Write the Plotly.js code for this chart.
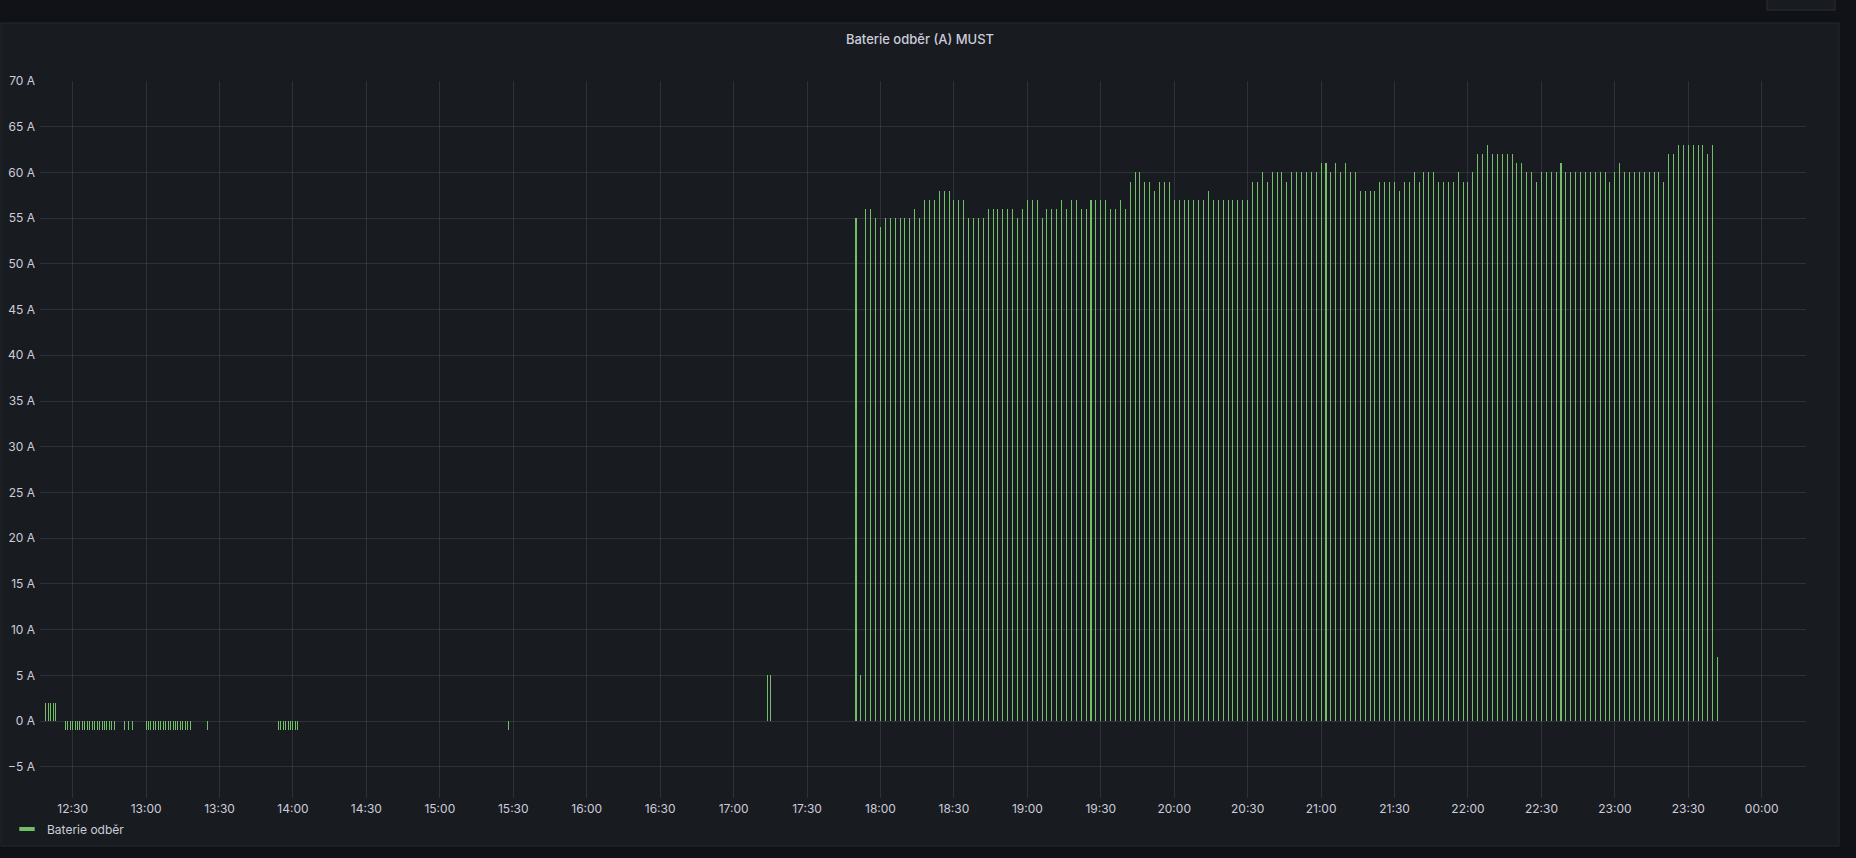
<!DOCTYPE html>
<html>
<head>
<meta charset="utf-8">
<script src="https://cdn.plot.ly/plotly-3.0.1.min.js"></script>
<style>
  html, body { margin: 0; padding: 0; background: #111217; }
  #chart { width: 1856px; height: 858px; }
</style>
</head>
<body>
<div id="chart"></div>
<script>
// ---- data ----
const seriesName = 'Baterie odběr';
const chartTitle = 'Baterie odběr (A) MUST';

// early samples (irregular, ~1 min)
const earlyTimes = [
  '2024-01-01 12:19', '2024-01-01 12:20', '2024-01-01 12:21', '2024-01-01 12:22', '2024-01-01 12:23',
  '2024-01-01 12:27', '2024-01-01 12:28', '2024-01-01 12:29', '2024-01-01 12:30', '2024-01-01 12:31',
  '2024-01-01 12:32', '2024-01-01 12:33', '2024-01-01 12:34', '2024-01-01 12:35', '2024-01-01 12:36',
  '2024-01-01 12:37', '2024-01-01 12:38', '2024-01-01 12:39', '2024-01-01 12:40', '2024-01-01 12:41',
  '2024-01-01 12:42', '2024-01-01 12:43', '2024-01-01 12:44', '2024-01-01 12:45', '2024-01-01 12:46',
  '2024-01-01 12:47',
  '2024-01-01 12:51:00', '2024-01-01 12:52:40', '2024-01-01 12:54:20',
  '2024-01-01 13:00', '2024-01-01 13:01', '2024-01-01 13:02', '2024-01-01 13:03', '2024-01-01 13:04',
  '2024-01-01 13:05', '2024-01-01 13:06', '2024-01-01 13:07', '2024-01-01 13:08', '2024-01-01 13:09',
  '2024-01-01 13:10', '2024-01-01 13:11', '2024-01-01 13:12', '2024-01-01 13:13', '2024-01-01 13:14',
  '2024-01-01 13:15', '2024-01-01 13:16', '2024-01-01 13:17', '2024-01-01 13:18',
  '2024-01-01 13:25',
  '2024-01-01 13:54', '2024-01-01 13:55', '2024-01-01 13:56', '2024-01-01 13:57', '2024-01-01 13:58',
  '2024-01-01 13:59', '2024-01-01 14:00', '2024-01-01 14:01', '2024-01-01 14:02',
  '2024-01-01 15:28',
  '2024-01-01 17:14', '2024-01-01 17:15'
];
const earlyValues = [
  2, 2, 2, 2, 2,
  -1, -1, -1, -1, -1, -1, -1, -1, -1, -1, -1, -1, -1, -1, -1, -1, -1, -1, -1, -1, -1,
  -1, -1, -1,
  -1, -1, -1, -1, -1, -1, -1, -1, -1, -1, -1, -1, -1, -1, -1, -1, -1, -1, -1,
  -1,
  -1, -1, -1, -1, -1, -1, -1, -1, -1,
  -1,
  5, 5
];

// evening samples, every 2 minutes from 17:50
const lateStart = '2024-01-01T17:50:00';
const lateStepMinutes = 2;
const lateValues = [
  55, 5, 56, 56, 55, 54, 55, 55, 55, 55,
  55, 55, 56, 55, 57, 57, 57, 58, 58, 58,
  57, 57, 57, 55, 55, 55, 55, 56, 56, 56,
  56, 56, 56, 55, 56, 57, 57, 57, 55, 56,
  56, 56, 57, 56, 57, 57, 56, 56, 57, 57,
  57, 57, 56, 56, 57, 56, 59, 60, 60, 59,
  59, 58, 59, 59, 59, 57, 57, 57, 57, 57,
  57, 57, 58, 57, 57, 57, 57, 57, 57, 57,
  57, 59, 59, 60, 59, 60, 60, 60, 59, 60,
  60, 60, 60, 60, 60, 61, 61, 60, 61, 60,
  61, 60, 60, 58, 58, 58, 58, 59, 59, 59,
  59, 58, 59, 59, 60, 59, 60, 60, 60, 59,
  59, 59, 59, 60, 59, 59, 60, 62, 62, 63,
  62, 62, 62, 62, 62, 61, 61, 60, 60, 59,
  60, 60, 60, 60, 61, 60, 60, 60, 60, 60,
  60, 60, 60, 60, 59, 60, 61, 60, 60, 60,
  60, 60, 60, 60, 60, 59, 62, 62, 63, 63,
  63, 63, 63, 63, 62, 63, 7
];

const xRange = ['2024-01-01 12:16:40', '2024-01-02 00:18:05'];
const yRange = [-8.42, 70];

// ---- build ----
function fmt(d) {
  const p = n => String(n).padStart(2, '0');
  return d.getFullYear() + '-' + p(d.getMonth() + 1) + '-' + p(d.getDate()) + ' ' +
         p(d.getHours()) + ':' + p(d.getMinutes()) + ':' + p(d.getSeconds());
}
const t0 = new Date(lateStart);
const lateTimes = lateValues.map((_, i) => fmt(new Date(t0.getTime() + i * lateStepMinutes * 60000)));

const allTimes = earlyTimes.concat(lateTimes);
const allValues = earlyValues.concat(lateValues);

const GREEN = '#73BF69';
const TEXT = '#ccccdc';
const GRID = 'rgba(204,204,220,0.13)';

// plot area in px
const W = 1856, H = 858;
const L = 40, R = 50, T = 81, B = 60;
const pw = W - L - R, ph = H - T - B;
const px = x => (x - L) / pw;
const py = y => (H - B - y) / ph;

const traces = [
  {
    type: 'bar',
    x: allTimes,
    y: allValues,
    width: 25000,
    marker: { color: GREEN, line: { width: 0 } },
    showlegend: false,
    hoverinfo: 'skip'
  },
  {
    type: 'scatter',
    mode: 'markers',
    x: [null],
    y: [null],
    name: seriesName,
    marker: { symbol: 'line-ew', size: 11, color: GREEN, line: { color: GREEN, width: 4 } },
    showlegend: true,
    hoverinfo: 'skip'
  }
];

const layout = {
  width: W, height: H,
  paper_bgcolor: '#111217',
  plot_bgcolor: 'rgba(0,0,0,0)',
  margin: { l: L, r: R, t: T, b: B, pad: 0, autoexpand: false },
  font: { family: 'Inter, Roboto, sans-serif', size: 12, color: TEXT },
  title: {
    text: chartTitle,
    xref: 'container', yref: 'container',
    x: 920 / W, y: 1 - 39 / H,
    xanchor: 'center', yanchor: 'middle',
    font: { family: 'Inter, Roboto, sans-serif', size: 13, color: TEXT, weight: 500 }
  },
  xaxis: {
    type: 'date',
    range: xRange,
    automargin: false,
    tickformat: '%H:%M',
    tick0: '2024-01-01 00:00',
    dtick: 1800000,
    showgrid: true, gridcolor: GRID, gridwidth: 1,
    zeroline: false, showline: false,
    ticks: '',
    ticklabelstandoff: 2,
    tickfont: { family: 'Inter, Roboto, sans-serif', size: 12, color: TEXT },
    fixedrange: true
  },
  yaxis: {
    range: yRange,
    automargin: false,
    tick0: 0, dtick: 5,
    ticksuffix: ' A',
    showgrid: true, gridcolor: GRID, gridwidth: 1,
    zeroline: false, showline: false,
    ticks: '',
    ticklabelstandoff: 4,
    tickfont: { family: 'Inter, Roboto, sans-serif', size: 12, color: TEXT },
    fixedrange: true
  },
  legend: {
    xref: 'container', yref: 'container',
    x: 7 / W, y: 1 - 829 / H,
    xanchor: 'left', yanchor: 'middle',
    bgcolor: 'rgba(0,0,0,0)', borderwidth: 0,
    font: { family: 'Inter, Roboto, sans-serif', size: 12, color: TEXT }
  },
  shapes: [
    {
      type: 'rect', xref: 'paper', yref: 'paper', layer: 'below',
      x0: px(1), x1: px(1839), y0: py(846), y1: py(23),
      fillcolor: '#181b1f', line: { color: '#25282d', width: 1 }
    },
    {
      type: 'rect', xref: 'paper', yref: 'paper', layer: 'below',
      x0: px(1767), x1: px(1835), y0: py(10), y1: py(-4),
      fillcolor: '#181b1f', line: { color: '#2c2f34', width: 1 }
    }
  ],
  bargap: 0,
  hovermode: false
};

Plotly.newPlot('chart', traces, layout, { displayModeBar: false, staticPlot: true });
</script>
</body>
</html>
